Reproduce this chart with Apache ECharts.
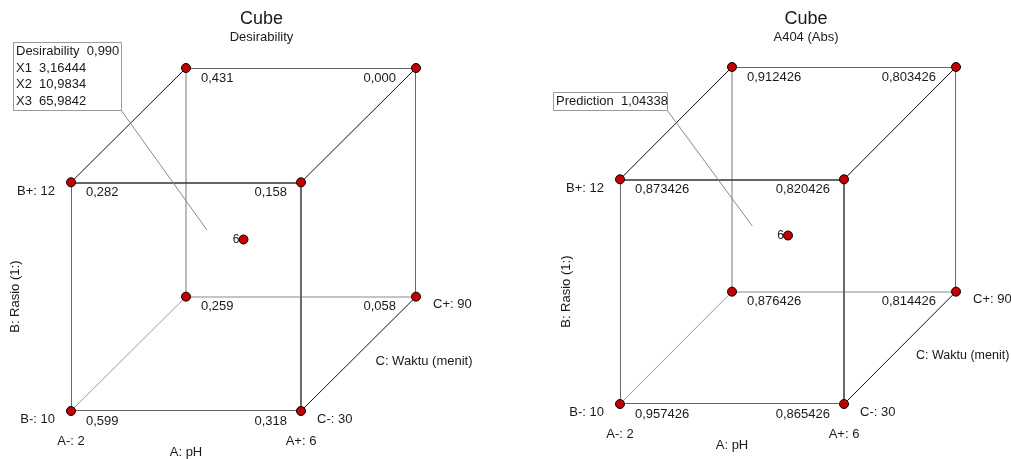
<!DOCTYPE html>
<html>
<head>
<meta charset="utf-8">
<title>Cube</title>
<script src="https://cdn.jsdelivr.net/npm/echarts@6/dist/echarts.min.js"></script>
<style>
  html, body { margin: 0; padding: 0; background: #fff; }
  #main { width: 1011px; height: 459px; }
</style>
</head>
<body>
<div id="main"></div>
<script>
// Design factors (A, B, C) with their low / high settings
const factorCodes = ['A', 'B', 'C'];
const factorNames = ['A: pH', 'B: Rasio (1:)', 'C: Waktu (menit)'];
const factorLow = [2, 10, 30];
const factorHigh = [6, 12, 90];
const centerRuns = 6;

// Corner responses in standard order (A changes fastest, then B, then C)
const desirability = [0.599, 0.318, 0.282, 0.158, 0.259, 0.058, 0.431, 0.000];
const absorbance = [0.957426, 0.865426, 0.873426, 0.820426, 0.876426, 0.814426, 0.912426, 0.803426];

// Optimum found by the numerical optimisation
const optimumSettings = [3.16444, 10.9834, 65.9842];
const optimumDesirability = 0.990;
const optimumPrediction = 1.04338;

const panelTitles = ['Cube', 'Cube'];
const panelSubtitles = ['Desirability', 'A404 (Abs)'];

// ---------------------------------------------------------------------------
const FONT = '"Liberation Sans", Arial, Helvetica, sans-serif';
const TEXT = '#1a1a1a';
const DEPTH = 0.5; // oblique projection of the C axis

const comma = s => String(s).replace('.', ',');
const frac = (v, k) => (v - factorLow[k]) / (factorHigh[k] - factorLow[k]);
// project actual factor settings into the 2-D plotting plane
function project(levels) {
  const fa = frac(levels[0], 0), fb = frac(levels[1], 1), fc = frac(levels[2], 2);
  return [fa + DEPTH * fc, fb + DEPTH * fc];
}
const mid = k => (factorLow[k] + factorHigh[k]) / 2;
const cornerLevels = i => [0, 1, 2].map(k => ((i >> k) & 1) ? factorHigh[k] : factorLow[k]);

const grids = [
  { left: 71, top: 68, width: 345, height: 343 },
  { left: 620, top: 67, width: 336, height: 337 }
];

const panels = [
  { values: desirability, fmt: v => comma(v.toFixed(3)) },
  { values: absorbance, fmt: v => comma(v.toFixed(6)) }
];

// edge styles: horizontal (A), vertical (B), depth (C); hidden edges lighter
const edgeStyle = {
  visible: [
    { color: '#333333', width: 1.5 },
    { color: '#6a6a6a', width: 2 },
    { color: '#111111', width: 1 }
  ],
  hidden: [
    { color: '#b0b0b0', width: 1.5 },
    { color: '#bcbcbc', width: 2 },
    { color: '#999999', width: 1 }
  ]
};
const HIDDEN_CORNER = 4; // A-, B-, C+ lies behind the cube

const edges = [];
for (let i = 0; i < 8; i++) {
  for (let j = i + 1; j < 8; j++) {
    const d = i ^ j;
    if (d === 1 || d === 2 || d === 4) edges.push([i, j, d === 1 ? 0 : d === 2 ? 1 : 2]);
  }
}

const pointStyle = { color: '#c40000', borderColor: '#000', borderWidth: 1, opacity: 1 };
const title = [], xAxis = [], yAxis = [], grid = [], series = [];

panels.forEach((p, g) => {
  grid.push(Object.assign({ containLabel: false }, grids[g]));
  xAxis.push({ type: 'value', gridIndex: g, min: 0, max: 1 + DEPTH, show: false });
  yAxis.push({ type: 'value', gridIndex: g, min: 0, max: 1 + DEPTH, show: false });

  title.push({
    text: panelTitles[g],
    subtext: panelSubtitles[g],
    left: grids[g].left + grids[g].width / 2 + 18,
    top: 10,
    padding: 0,
    itemGap: 3,
    textAlign: 'center',
    textStyle: { fontFamily: FONT, fontSize: 18, fontWeight: 'normal', color: TEXT },
    subtextStyle: { fontFamily: FONT, fontSize: 13, color: TEXT }
  });

  const edgeData = hidden => edges
    .filter(e => (e[0] === HIDDEN_CORNER || e[1] === HIDDEN_CORNER) === hidden)
    .map(e => ({
      coords: [project(cornerLevels(e[0])), project(cornerLevels(e[1]))],
      lineStyle: Object.assign({ opacity: 1, curveness: 0 }, (hidden ? edgeStyle.hidden : edgeStyle.visible)[e[2]])
    }));

  series.push({
    type: 'lines', coordinateSystem: 'cartesian2d', xAxisIndex: g, yAxisIndex: g,
    silent: true, z: 1, data: edgeData(true)
  });
  series.push({
    type: 'lines', coordinateSystem: 'cartesian2d', xAxisIndex: g, yAxisIndex: g,
    silent: true, z: 2, data: edgeData(false)
  });

  // cube corners with their responses
  series.push({
    type: 'scatter', xAxisIndex: g, yAxisIndex: g, z: 5, silent: true,
    symbol: 'circle', symbolSize: 9, itemStyle: pointStyle,
    data: p.values.map((v, i) => {
      const hiA = i & 1, hiC = (i >> 2) & 1;
      return {
        value: project(cornerLevels(i)).concat(v),
        label: {
          show: true, position: 'inside', formatter: p.fmt(v),
          align: hiA ? 'right' : 'left', verticalAlign: 'middle',
          offset: [hiA ? (hiC ? -20 : -14) : 15, 10],
          fontFamily: FONT, fontSize: 13, color: TEXT
        }
      };
    })
  });

  // centre point with its replicate count
  series.push({
    type: 'scatter', xAxisIndex: g, yAxisIndex: g, z: 5, silent: true,
    symbol: 'circle', symbolSize: 9, itemStyle: pointStyle,
    data: [{
      value: project([mid(0), mid(1), mid(2)]),
      label: {
        show: true, position: 'inside', formatter: String(centerRuns),
        align: 'right', verticalAlign: 'middle', offset: [-4, 0],
        fontFamily: FONT, fontSize: 12, color: '#222'
      }
    }]
  });

  // factor level and factor name labels
  const lab = (levels, text, align, offset, rotate, size) => ({
    value: project(levels),
    label: {
      show: true, position: 'inside', formatter: text, align, verticalAlign: 'middle',
      offset, rotate: rotate || 0, fontFamily: FONT, fontSize: size || 13, color: TEXT
    }
  });
  const L = factorLow, H = factorHigh;
  series.push({
    type: 'scatter', xAxisIndex: g, yAxisIndex: g, z: 4, silent: true,
    symbolSize: 1, itemStyle: { color: 'rgba(0,0,0,0)', opacity: 1 },
    data: [
      lab([L[0], L[1], L[2]], `${factorCodes[1]}-: ${L[1]}`, 'right', [-16, 8]),
      lab([L[0], H[1], L[2]], `${factorCodes[1]}+: ${H[1]}`, 'right', [-16, 9]),
      lab([L[0], L[1], L[2]], `${factorCodes[0]}-: ${L[0]}`, 'center', [0, 30]),
      lab([H[0], L[1], L[2]], `${factorCodes[0]}+: ${H[0]}`, 'center', [0, 30]),
      lab([mid(0), L[1], L[2]], factorNames[0], 'center', [0, 41]),
      lab([H[0], L[1], L[2]], `${factorCodes[2]}-: ${L[2]}`, 'left', [16, 8]),
      lab([H[0], L[1], H[2]], `${factorCodes[2]}+: ${H[2]}`, 'left', [17, 8]),
      lab([H[0], L[1], mid(2)], factorNames[2], 'left', [g ? 16 : 17, 8], 0, g ? 12.5 : 13),
      // rotated label: offset is measured in the rotated frame
      lab([L[0], mid(1), L[2]], factorNames[1], 'center', [0, g ? -54 : -56], 90)
    ]
  });
});

const chart = echarts.init(document.getElementById('main'), null, { renderer: 'canvas' });
chart.setOption({
  animation: false,
  backgroundColor: '#fff',
  title, grid, xAxis, yAxis, series
});

// annotation boxes pointing at the optimum setting
const boxes = [
  {
    rect: { x: 13, y: 42, width: 108, height: 68 },
    lines: [
      'Desirability  ' + comma(optimumDesirability.toFixed(3)),
      'X1  ' + comma(optimumSettings[0].toPrecision(6)),
      'X2  ' + comma(optimumSettings[1].toPrecision(6)),
      'X3  ' + comma(optimumSettings[2].toPrecision(6))
    ]
  },
  {
    rect: { x: 553, y: 92, width: 114, height: 18 },
    lines: ['Prediction  ' + comma(optimumPrediction.toPrecision(6))]
  }
];
const optimumXY = project(optimumSettings);
const graphic = [];
boxes.forEach((b, g) => {
  const target = chart.convertToPixel({ gridIndex: g }, optimumXY);
  const r = b.rect;
  graphic.push({
    type: 'line', z: 3, silent: true,
    shape: { x1: r.x + r.width, y1: r.y + r.height, x2: target[0], y2: target[1] },
    style: { stroke: '#8a8a8a', lineWidth: 1 }
  });
  graphic.push({
    type: 'rect', z: 10, silent: true,
    shape: { x: r.x + 0.5, y: r.y + 0.5, width: r.width, height: r.height },
    style: { fill: '#fff', stroke: '#9a9a9a', lineWidth: 1 }
  });
  graphic.push({
    type: 'text', z: 11, silent: true,
    x: r.x + 3, y: r.y + 1.5,
    style: {
      text: b.lines.join('\n'), font: '13px ' + FONT, fill: TEXT,
      lineHeight: 16.5, textVerticalAlign: 'top', verticalAlign: 'top'
    }
  });
});
chart.setOption({ graphic });
</script>
</body>
</html>
